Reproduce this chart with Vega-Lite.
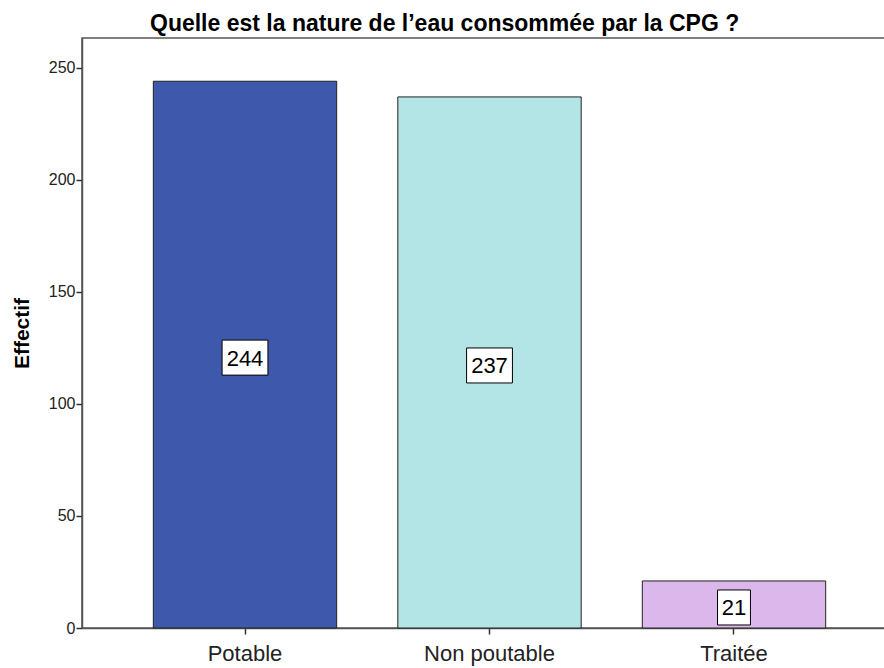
{
  "$schema": "https://vega.github.io/schema/vega-lite/v6.json",
  "autosize": "none",
  "width": 815,
  "height": 590,
  "padding": {"left": 82, "top": 38, "right": 0, "bottom": 40},
  "background": "white",
  "config": {
    "font": "Liberation Sans",
    "view": {"stroke": "#555555", "strokeWidth": 1.5},
    "axis": {"grid": false, "domainColor": "#555555", "domainWidth": 1.5, "tickColor": "#333333", "tickWidth": 1.5, "labelColor": "#222222", "titleColor": "#000000"}
  },
  "title": {"text": "Quelle est la nature de l’eau consommée par la CPG ?", "anchor": "start", "frame": "group", "dx": 68, "offset": 2, "fontSize": 23, "fontWeight": "bold", "font": "Liberation Sans", "color": "#000000"},
  "data": {"values": [
    {"cat": "Potable", "n": 244},
    {"cat": "Non poutable", "n": 237},
    {"cat": "Traitée", "n": 21}
  ]},
  "encoding": {
    "x": {"field": "cat", "type": "nominal", "sort": null,
      "scale": {"paddingInner": 0.25, "paddingOuter": 0.2917},
      "axis": {"title": null, "labelAngle": 0, "labelFontSize": 22, "tickSize": 6, "labelPadding": 9, "domain": true}}
  },
  "resolve": {"scale": {"y": "independent"}},
  "layer": [
    {
      "mark": {"type": "bar", "stroke": "#222222", "strokeWidth": 1},
      "encoding": {
        "y": {"field": "n", "type": "quantitative", "scale": {"domain": [0, 263.3], "nice": false},
          "axis": {"title": "Effectif", "titleFontSize": 21, "titleFontWeight": "bold", "titlePadding": 16, "labelFontSize": 16, "tickSize": 6, "values": [0, 50, 100, 150, 200, 250], "labelPadding": 1}},
        "color": {"field": "cat", "type": "nominal", "sort": null, "legend": null,
          "scale": {"domain": ["Potable", "Non poutable", "Traitée"], "range": ["#3E58AC", "#B4E5E6", "#DCB7EC"]}}
      }
    },
    {
      "mark": {"type": "point", "filled": true, "fill": "white", "stroke": "#000000", "strokeWidth": 1, "opacity": 1, "size": 1225, "yOffset": 3},
      "encoding": {
        "y": {"field": "n", "type": "quantitative", "scale": {"domain": [0, 526.6], "nice": false, "zero": true}, "axis": null},
        "shape": {"condition": {"test": "datum.n < 100", "value": "M-0.94,-1H0.94V1H-0.94Z"}, "value": "M-1.31,-1H1.31V1H-1.31Z"}
      }
    },
    {
      "mark": {"type": "text", "fontSize": 22, "color": "#000000", "baseline": "middle", "yOffset": 4},
      "encoding": {
        "y": {"field": "n", "type": "quantitative", "scale": {"domain": [0, 526.6], "nice": false, "zero": true}, "axis": null},
        "text": {"field": "n", "type": "quantitative"}
      }
    }
  ]
}
